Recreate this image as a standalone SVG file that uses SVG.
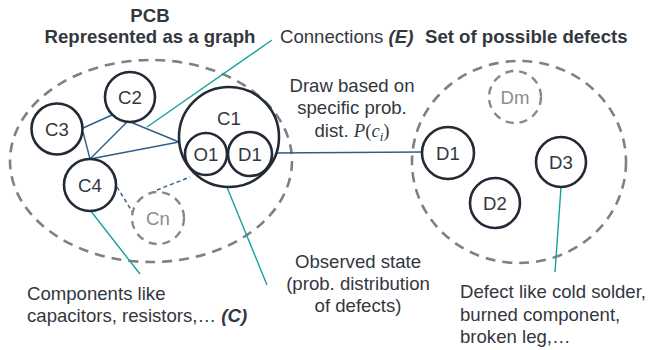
<svg xmlns="http://www.w3.org/2000/svg" width="664" height="350" viewBox="0 0 664 350">
<style>
text{font-family:"Liberation Sans",Arial,sans-serif;font-size:18.6px;fill:#333740}
.b{font-weight:bold}
.bi{font-weight:bold;font-style:italic}
.n{fill:#fff;stroke:#222a35;stroke-width:2.6}
.dn{fill:none;stroke:#888;stroke-width:2.4;stroke-dasharray:8,6}
.big{fill:none;stroke:#808080;stroke-width:2.6;stroke-dasharray:10,7}
.lbl{text-anchor:middle}
.gl{fill:#8c8c8c}
.e{stroke:#2d5f8b;stroke-width:1.4;fill:none}
.ed{stroke:#2d5f8b;stroke-width:1.4;fill:none;stroke-dasharray:4,3}
.t{stroke:#17a0a0;stroke-width:1.4;fill:none}
.m{font-family:"Liberation Serif","Times New Roman",serif;font-style:italic}
.mu{font-family:"Liberation Serif","Times New Roman",serif}
</style>
<g id="pcb-area"><ellipse class="big" cx="151" cy="161" rx="141" ry="101"/></g>
<g id="defect-area"><ellipse class="big" cx="519" cy="162" rx="107" ry="101"/></g>
<g id="connectors">
<line class="e" x1="83" y1="128" x2="112" y2="115"/>
<line class="e" x1="83" y1="132" x2="90" y2="159"/>
<line class="e" x1="128" y1="121" x2="90" y2="159"/>
<line class="e" x1="90" y1="159" x2="179" y2="142"/>
<line class="e" x1="128" y1="121" x2="179" y2="142"/>
<line class="e" x1="272" y1="153" x2="422" y2="152"/>
<line class="ed" x1="117" y1="187" x2="133" y2="213"/>
<line class="ed" x1="157" y1="190" x2="190" y2="177"/>
<line class="t" x1="272" y1="40" x2="147" y2="127"/>
<line class="t" x1="222" y1="175" x2="267" y2="285"/>
<line class="t" x1="90" y1="210" x2="140" y2="274"/>
<line class="t" x1="561" y1="187" x2="555" y2="272"/>
</g>
<g id="C2"><circle class="n" cx="130" cy="97" r="25"/><text class="lbl" x="130" y="104">C2</text></g>
<g id="C3"><circle class="n" cx="57" cy="129" r="25.5"/><text class="lbl" x="57" y="136">C3</text></g>
<g id="C4"><circle class="n" cx="90" cy="185" r="26"/><text class="lbl" x="90" y="192">C4</text></g>
<g id="Cn"><circle class="dn" cx="158" cy="218" r="26"/><text class="lbl gl" x="158" y="225">Cn</text></g>
<g id="C1"><circle class="n" cx="229" cy="137" r="50"/><text class="lbl" x="229" y="125">C1</text>
<g id="O1"><circle class="n" cx="206" cy="154" r="21"/><text class="lbl" x="206" y="161">O1</text></g>
<g id="D1in"><circle class="n" cx="250" cy="154" r="22"/><text class="lbl" x="250" y="161">D1</text></g>
</g>
<g id="D1"><circle class="n" cx="448" cy="153" r="26"/><text class="lbl" x="448" y="160">D1</text></g>
<g id="Dm"><circle class="dn" cx="515" cy="97" r="26"/><text class="lbl gl" x="515" y="104">Dm</text></g>
<g id="D2"><circle class="n" cx="495" cy="203" r="25"/><text class="lbl" x="495" y="210">D2</text></g>
<g id="D3"><circle class="n" cx="561" cy="162" r="25"/><text class="lbl" x="561" y="169">D3</text></g>
<g id="labels">
<text class="b lbl" x="150" y="22">PCB</text>
<text class="b lbl" x="150" y="43">Represented as a graph</text>
<text x="280" y="43">Connections <tspan class="bi">(E)</tspan></text>
<text class="b" x="425" y="43">Set of possible defects</text>
<text class="lbl" x="352" y="92">Draw based on</text>
<text class="lbl" x="352" y="114">specific prob.</text>
<text class="lbl" x="352" y="137">dist. <tspan class="m">P</tspan><tspan class="mu">(</tspan><tspan class="m">c</tspan><tspan class="m" font-size="13" dy="4">i</tspan><tspan class="mu" dy="-4">)</tspan></text>
<text class="lbl" x="358" y="268">Observed state</text>
<text class="lbl" x="358" y="290">(prob. distribution</text>
<text class="lbl" x="358" y="312">of defects)</text>
<text x="27" y="300">Components like</text>
<text x="27" y="322">capacitors, resistors,… <tspan class="bi">(C)</tspan></text>
<text x="460" y="298">Defect like cold solder,</text>
<text x="460" y="321">burned component,</text>
<text x="460" y="343">broken leg,…</text>
</g>
</svg>
